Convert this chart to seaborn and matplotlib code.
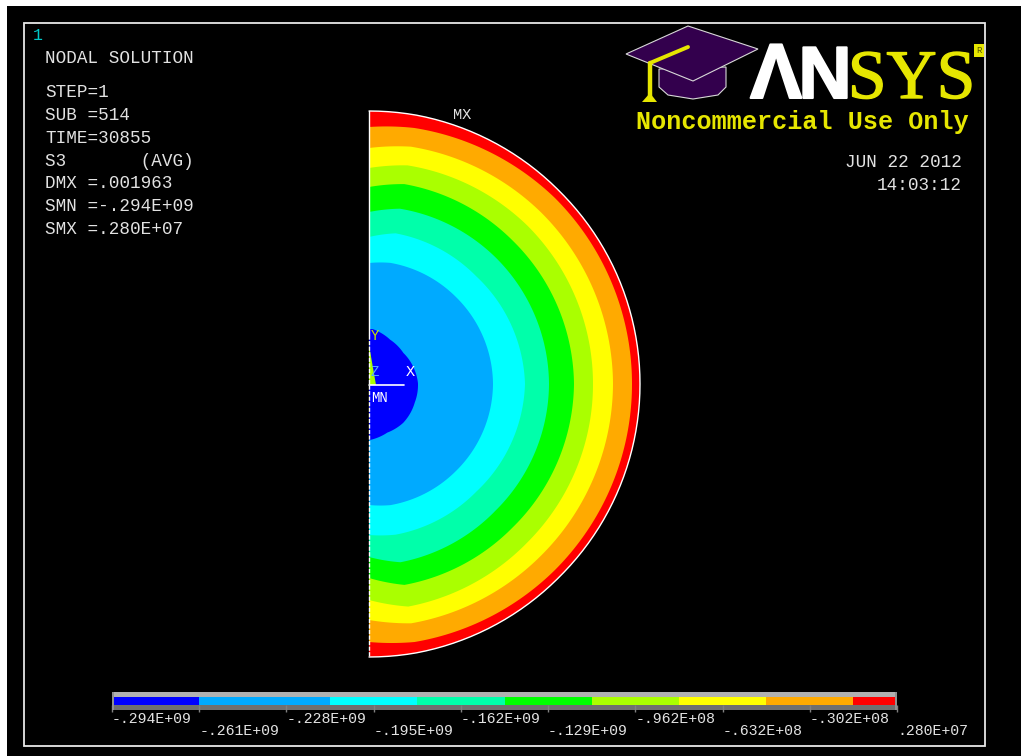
import numpy as np
import matplotlib
matplotlib.use("Agg")
import matplotlib.pyplot as plt
import matplotlib.patheffects as pe
import seaborn as sns
from matplotlib.colors import ListedColormap
from matplotlib.patches import Rectangle, Polygon

# contour bands, inner to outer
band_colors = ["#0000ff", "#00aaff", "#00ffff", "#00ffaa", "#00ff00",
               "#aaff00", "#ffff00", "#ffaa00", "#ff0000"]

# outer radius of each band (pixels) at these angles
band_angles = [90, 80, 45, 0, -45, -80, -90]
r_azure = [121, 123, 123, 124, 123, 123, 121]
r_cyan = [147, 153, 152, 156, 152, 153, 151]
r_spring = [172, 178, 179, 180, 179, 181, 173]
r_green = [197, 203, 203, 205, 203, 204, 194]
r_lime = [216, 222, 224, 224, 224, 226, 216]
r_yellow = [236, 241, 243, 244, 243, 243, 236]
r_orange = [257, 260, 263, 263, 263, 262, 258]
r_red = [273, 273, 271, 271, 271, 273, 273]

# innermost blue region
core_angles = [90, 86, 65, 43, 18, 2, -21, -48, -69, -89, -90]
core_radii = [56, 56, 50, 47, 48, 49, 49, 51, 51, 55, 55]

legend_labels = ["-.294E+09", "-.261E+09", "-.228E+09", "-.195E+09", "-.162E+09",
                 "-.129E+09", "-.962E+08", "-.632E+08", "-.302E+08", ".280E+07"]
# width of each legend colour in half label steps
legend_spans = [2, 3, 2, 2, 2, 2, 2, 2, 1]

info_lines = ["STEP=1", "SUB =514", "TIME=30855", "S3       (AVG)",
              "DMX =.001963", "SMN =-.294E+09", "SMX =.280E+07"]
info_y = [97, 120, 143, 166, 188, 211, 234]

W, H = 1021, 756
CX, CY = 369, 384
MONO = "Liberation Mono"
TXT = "#e2e2e2"
LOGO_YEL = "#e6e600"
PURPLE = "#33004d"

sns.set_theme(style="white")
plt.rcParams["font.family"] = ["Liberation Mono", "DejaVu Sans"]

fig = plt.figure(figsize=(W / 100, H / 100), dpi=100, facecolor="white")
ax = fig.add_axes([0, 0, 1, 1])
ax.set_xlim(0, W)
ax.set_ylim(H, 0)
ax.axis("off")

ax.add_patch(Rectangle((7, 6), W - 7, H - 6, color="black", lw=0))
ax.add_patch(Rectangle((24, 23), 961, 723, fill=False, ec="#e8e8e8", lw=1.3))


def sector(angles, radii, color, cy=CY):
    t = np.linspace(90, -90, 181)
    r = np.interp(t, angles[::-1], radii[::-1])
    x = CX + r * np.cos(np.radians(t))
    y = cy - r * np.sin(np.radians(t))
    ax.fill(x, y, color=color, lw=0)
    return x, y


# main contour, biggest first
all_radii = [r_azure, r_cyan, r_spring, r_green, r_lime, r_yellow, r_orange, r_red]
outlines = []
for radii, col in zip(all_radii[::-1], band_colors[1:][::-1]):
    outlines.append(sector(band_angles, radii, col))
sector(core_angles, core_radii, band_colors[0], cy=385)

# white outline, left edge is broken below the origin
ax.plot(outlines[0][0], outlines[0][1], color="white", lw=1)
ax.plot([CX, CX], [111, 335], color="white", lw=1)
ax.plot([CX, CX], [335, 657], color="white", lw=1, dashes=(3, 1))

# triad at the origin
ax.add_patch(Polygon([(369, 345), (376, 385), (369, 385)], color="#aaff00", lw=0))
ax.plot([369, 404], [385, 385], color="white", lw=1.2)
ax.text(375, 336, "Y", color="#c8e600", fontsize=10, ha="center", va="center", family=MONO)
ax.text(375, 372, "Z", color="#55aaff", fontsize=10, ha="center", va="center", family=MONO)
ax.text(410, 372, "X", color="white", fontsize=11, ha="center", va="center", family=MONO)
ax.text(379, 398, "MN", color="white", fontsize=10, ha="center", va="center", family=MONO)
ax.text(462, 115, "MX", color=TXT, fontsize=11, ha="center", va="center", family=MONO)

# text block
ax.text(33, 35, "1", color="#00c8c8", fontsize=12, va="center", family=MONO)
ax.text(45, 63, "NODAL SOLUTION", color=TXT, fontsize=12.7, va="baseline", family=MONO)
for line, y in zip(info_lines, info_y):
    ax.text(45, y, line, color=TXT, fontsize=12.7, va="baseline", family=MONO)
ax.text(962, 167, "JUN 22 2012", color=TXT, fontsize=12.7, ha="right", va="baseline", family=MONO)
ax.text(962, 190, "14:03:12", color=TXT, fontsize=12.7, ha="right", va="baseline", family=MONO)

# logo: cap
ax.add_patch(Polygon([(659, 69), (659, 87), (668, 95), (693, 99), (718, 95), (726, 87), (726, 67)],
                     fc=PURPLE, ec="#d8d8d8", lw=0.8))
ax.add_patch(Polygon([(626, 54), (688, 26), (758, 49), (693, 81)], fc=PURPLE, ec="#d8d8d8", lw=0.8))
ax.plot([688, 650], [47, 63], color=LOGO_YEL, lw=2.8, solid_capstyle="round")
ax.plot([650, 650], [63, 96], color=LOGO_YEL, lw=3.2)
ax.add_patch(Polygon([(642, 102), (650, 93), (657, 102)], color=LOGO_YEL, lw=0))

# logo: wordmark
bold_white = [pe.withStroke(linewidth=1.5, foreground="white")]
ax.text(776, 98, "Λ", color="white", fontsize=56, fontweight="bold", ha="center", va="baseline",
        family="Liberation Sans", path_effects=bold_white)
ax.text(825, 98, "N", color="white", fontsize=53, fontweight="bold", ha="center", va="baseline",
        family="Liberation Sans", path_effects=bold_white)
ax.text(975, 98, "SYS", color=LOGO_YEL, fontsize=50, ha="right", va="baseline",
        family="Liberation Serif", path_effects=[pe.withStroke(linewidth=1, foreground=LOGO_YEL)])
ax.add_patch(Rectangle((974, 44), 10, 13, color=LOGO_YEL, lw=0))
ax.text(979, 50.5, "R", color="#555500", fontsize=6.5, ha="center", va="center", family=MONO)
ax.text(636, 122, "Noncommercial Use Only", color=LOGO_YEL, fontsize=18.1, fontweight="bold",
        va="center", family=MONO)

# legend bar
ax.add_patch(Rectangle((112, 692), 785, 5, color="#b0b0b0", lw=0))
ax.add_patch(Rectangle((112, 705), 785, 5, color="#707070", lw=0))

cax = fig.add_axes([112 / W, 1 - 705 / H, 785 / W, 8 / H], zorder=2)
cells = np.repeat(np.arange(len(band_colors)), legend_spans).reshape(1, -1)
sns.heatmap(cells, ax=cax, cmap=ListedColormap(band_colors), cbar=False,
            xticklabels=False, yticklabels=False, linewidths=0)
cax.set_yticks([])
steps = np.arange(len(legend_labels)) * 2
cax.set_xticks(steps[::2], legend_labels[::2], ha="left", fontsize=10.7, color=TXT, family=MONO)
cax.set_xticks(steps[1::2], legend_labels[1::2], minor=True, ha="left", fontsize=10.7, color=TXT, family=MONO)
cax.tick_params(axis="x", which="major", length=5, width=1, color="#808080", pad=0, bottom=True)
cax.tick_params(axis="x", which="minor", length=5, width=1, color="#808080", pad=9, bottom=True)

fig.add_artist(Rectangle((112, 692), 2, 18, color="#909090", lw=0, transform=ax.transData, zorder=5))
fig.add_artist(Rectangle((895, 692), 2, 18, color="#909090", lw=0, transform=ax.transData, zorder=5))

fig.savefig("out.png", dpi=100, facecolor=fig.get_facecolor())
